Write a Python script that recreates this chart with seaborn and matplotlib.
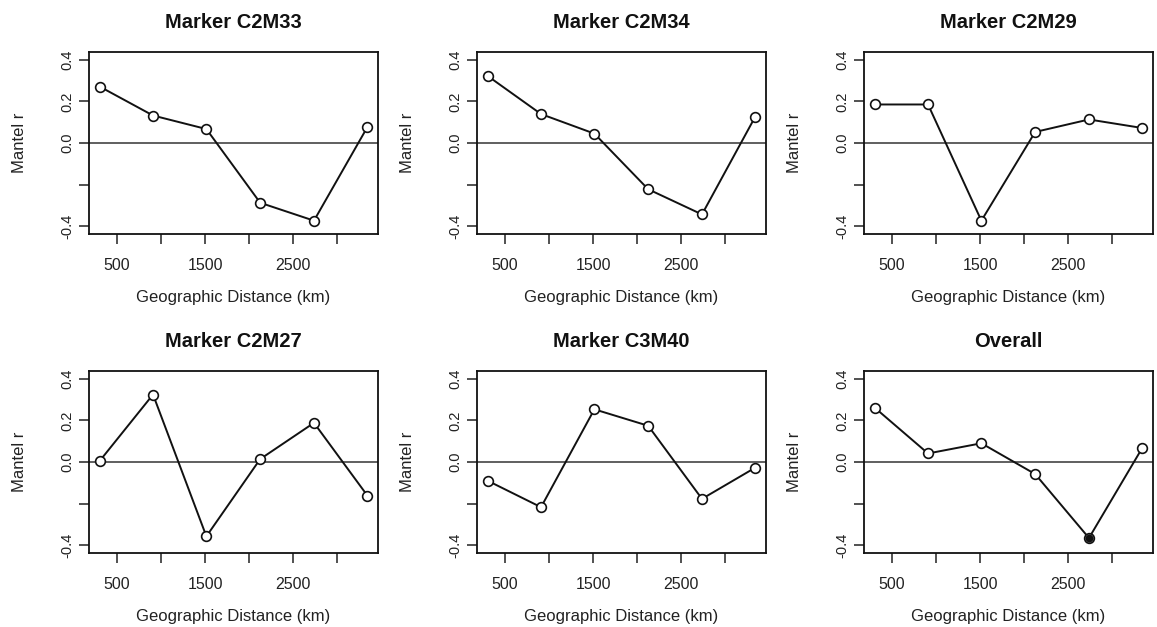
import matplotlib
matplotlib.use("Agg")
import matplotlib.pyplot as plt
import seaborn as sns
import numpy as np
import pandas as pd

sns.set_theme(style="white")
plt.rcParams['font.family'] = ['Liberation Sans', 'DejaVu Sans']

distance_km = [305, 910, 1515, 2125, 2735, 3340]

titles = ["Marker C2M33", "Marker C2M34", "Marker C2M29",
          "Marker C2M27", "Marker C3M40", "Overall"]

c2m33 = [0.271, 0.132, 0.067, -0.287, -0.373, 0.076]
c2m34 = [0.322, 0.139, 0.045, -0.222, -0.343, 0.127]
c2m29 = [0.185, 0.185, -0.373, 0.053, 0.113, 0.072]
c2m27 = [0.005, 0.324, -0.357, 0.014, 0.188, -0.161]
c3m40 = [-0.090, -0.217, 0.253, 0.174, -0.177, -0.027]
overall = [0.261, 0.041, 0.090, -0.058, -0.365, 0.068]

# significant points (filled) per panel: index list
significant = [[], [], [], [], [], [4]]

series = [c2m33, c2m34, c2m29, c2m27, c3m40, overall]

x_ticks = [500, 1000, 1500, 2000, 2500, 3000]
x_ticklabels = ["500", "", "1500", "", "2500", ""]
y_ticks = [0.4, 0.2, 0.0, -0.2, -0.4]
y_ticklabels = ["0.4", "0.2", "0.0", "", "-0.4"]

W, H = 1157, 627
fig = plt.figure(figsize=(W / 100, H / 100), dpi=100)

lefts = [89, 477, 864]
tops = [52, 371]
aw, ah = 289, 182

for i, (title, vals) in enumerate(zip(titles, series)):
    r, c = divmod(i, 3)
    l = lefts[c]
    t = tops[r]
    ax = fig.add_axes([l / W, 1 - (t + ah) / H, aw / W, ah / H])
    df = pd.DataFrame({"dist": distance_km, "r": vals})
    ax.axhline(0, color="#444444", lw=1.2, zorder=1)
    sns.lineplot(data=df, x="dist", y="r", ax=ax, color="#111111", lw=1.4,
                 marker="o", markersize=7, markerfacecolor="white",
                 markeredgecolor="#111111", markeredgewidth=1.2, zorder=3)
    if significant[i]:
        sdf = df.iloc[significant[i]]
        sns.scatterplot(data=sdf, x="dist", y="r", ax=ax, color="#111111",
                        s=30, edgecolor="#111111", zorder=4)
    ax.set_xlim(184, 3461)
    ax.set_ylim(-0.437, 0.437)
    ax.set_xticks(x_ticks)
    ax.set_xticklabels(x_ticklabels, fontsize=11.5, color="#222222")
    ax.set_yticks(y_ticks)
    ax.set_yticklabels(y_ticklabels, fontsize=10.5, rotation=90, va="center",
                       color="#222222")
    ax.tick_params(axis="both", direction="out", length=7.5, width=1.1,
                   color="#222222", left=True, bottom=True)
    ax.tick_params(axis="x", pad=10)
    ax.tick_params(axis="y", pad=3)
    for sp in ax.spines.values():
        sp.set_color("#111111")
        sp.set_linewidth(1.3)
    ax.set_xlabel("Geographic Distance (km)", fontsize=12, color="#222222",
                  labelpad=12)
    ax.set_ylabel("Mantel r", fontsize=12, color="#222222", labelpad=24)
    ax.set_title(title, fontsize=14.5, fontweight="bold", pad=17, color="#111111")

fig.savefig("out.png", dpi=100, facecolor="white")
